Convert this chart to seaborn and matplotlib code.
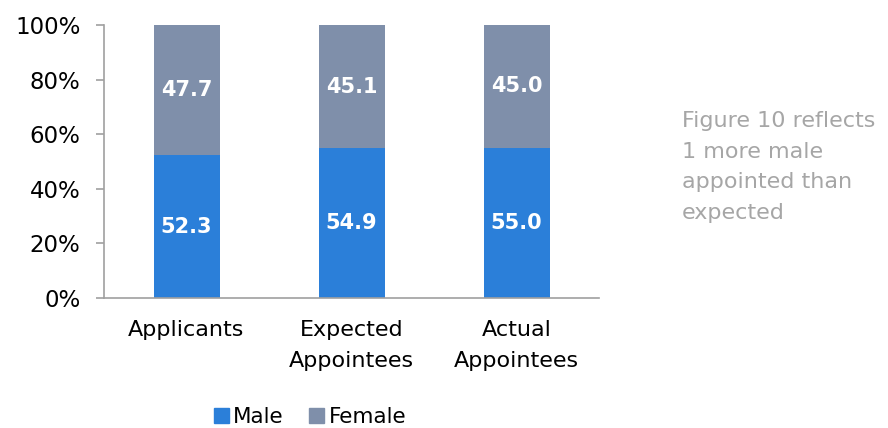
import matplotlib
matplotlib.use("Agg")
import matplotlib.pyplot as plt
from matplotlib.patches import Patch
import seaborn as sns
import pandas as pd

categories = ["Applicants", "Expected\nAppointees", "Actual\nAppointees"]
male = [52.3, 54.9, 55.0]
female = [47.7, 45.1, 45.0]

MALE_COLOR = "#2B7FD9"
FEMALE_COLOR = "#7F8FAA"
AXIS_COLOR = "#A0A0A0"

sns.set_style("white")
plt.rcParams["font.family"] = ["DejaVu Sans"]
plt.rcParams["text.color"] = "black"

df = pd.DataFrame({"category": categories, "male": male, "female": female})
df["total"] = df["male"] + df["female"]

fig = plt.figure(figsize=(8.88, 4.28), dpi=100)
ax = fig.add_axes([104 / 888, 1 - 298 / 428, 495 / 888, 273 / 428])

# stacked: full bar in female colour, male drawn over it
sns.barplot(data=df, x="category", y="total", color=FEMALE_COLOR, width=0.4,
            saturation=1, linewidth=0, ax=ax)
sns.barplot(data=df, x="category", y="male", color=MALE_COLOR, width=0.4,
            saturation=1, linewidth=0, ax=ax)

for i, (m, f) in enumerate(zip(male, female)):
    ax.text(i, m / 2, f"{m:.1f}", ha="center", va="center", color="white",
            fontsize=15, fontweight="bold")
    ax.text(i, m + f / 2, f"{f:.1f}", ha="center", va="center", color="white",
            fontsize=15, fontweight="bold")

ax.set_ylim(0, 100)
ax.set_xlim(-0.5, 2.5)
ax.set_yticks(range(0, 101, 20))
ax.set_yticklabels([f"{v}%" for v in range(0, 101, 20)])
ax.set_xlabel("")
ax.set_ylabel("")
ax.tick_params(axis="y", left=True, length=6, width=1.2, color=AXIS_COLOR,
               labelcolor="black", labelsize=16.5, pad=11)
ax.tick_params(axis="x", bottom=False, labelcolor="black", labelsize=16, pad=12)
for lab in ax.get_xticklabels():
    lab.set_linespacing(1.7)
    lab.set_va("top")
for side in ["top", "right"]:
    ax.spines[side].set_visible(False)
for side in ["left", "bottom"]:
    ax.spines[side].set_color(AXIS_COLOR)
    ax.spines[side].set_linewidth(1.2)

handles = [Patch(color=MALE_COLOR, label="Male"),
           Patch(color=FEMALE_COLOR, label="Female")]
fig.legend(handles=handles, loc="center", bbox_to_anchor=(310 / 888, 1 - 417 / 428),
           ncol=2, frameon=False, fontsize=15.5, handlelength=0.7, handleheight=0.7,
           handletextpad=0.2, columnspacing=1.2)

fig.text(682 / 888, 1 - 167 / 428,
         "Figure 10 reflects\n1 more male\nappointed than\nexpected",
         ha="left", va="center", color="#A6A6A6", fontsize=16, linespacing=1.68)

fig.savefig("out.png", dpi=100)
